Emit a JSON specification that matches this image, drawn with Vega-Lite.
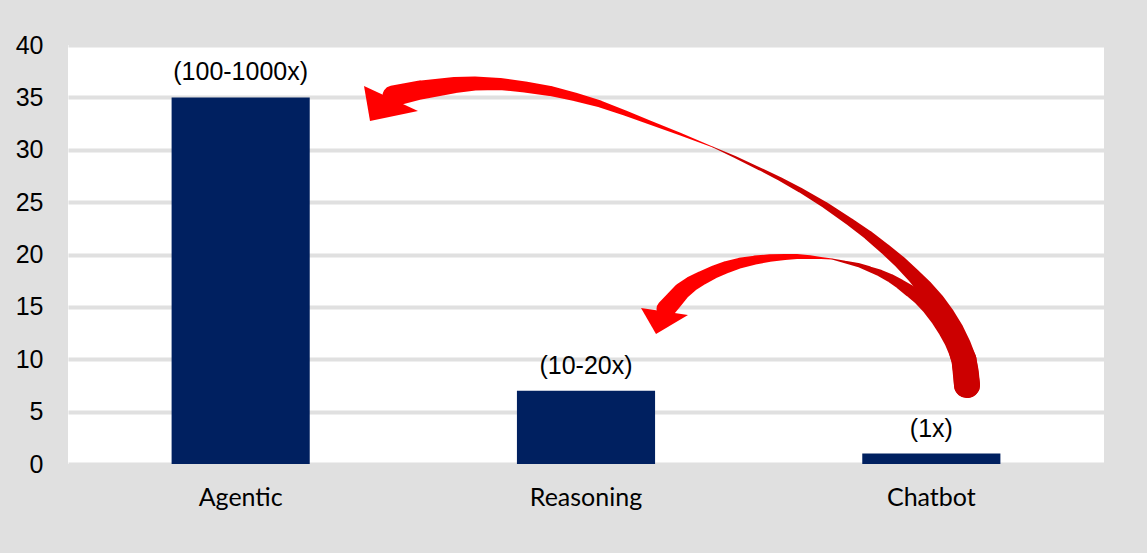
{
  "$schema": "https://vega.github.io/schema/vega-lite/v6.json",
  "width": 1036,
  "height": 419,
  "autosize": {"type": "none"},
  "padding": {"left": 68, "top": 45, "right": 43, "bottom": 89},
  "background": "#e0e0e0",
  "config": {"view": {"fill": "#ffffff", "stroke": null}},
  "datasets": {
    "bars": [
      {"model": "Agentic", "value": 35, "label": "(100-1000x)"},
      {"model": "Reasoning", "value": 7, "label": "(10-20x)"},
      {"model": "Chatbot", "value": 1, "label": "(1x)"}
    ],
    "arrows": [
      {"seg": "big-a", "tone": "bright", "i": 1, "ax": 0.9411, "ay": 35.13, "w": 21},
      {"seg": "big-a", "tone": "bright", "i": 2, "ax": 1.0193, "ay": 35.70, "w": 19},
      {"seg": "big-a", "tone": "bright", "i": 3, "ax": 1.1207, "ay": 36.18, "w": 16},
      {"seg": "big-a", "tone": "bright", "i": 4, "ax": 1.1786, "ay": 36.33, "w": 14},
      {"seg": "big-a", "tone": "bright", "i": 5, "ax": 1.2510, "ay": 36.28, "w": 12},
      {"seg": "big-a", "tone": "bright", "i": 6, "ax": 1.3234, "ay": 35.99, "w": 11},
      {"seg": "big-a", "tone": "bright", "i": 7, "ax": 1.3958, "ay": 35.61, "w": 10},
      {"seg": "big-a", "tone": "bright", "i": 8, "ax": 1.4682, "ay": 35.04, "w": 8.5},
      {"seg": "big-a", "tone": "bright", "i": 9, "ax": 1.5406, "ay": 34.37, "w": 7},
      {"seg": "big-a", "tone": "bright", "i": 10, "ax": 1.6130, "ay": 33.51, "w": 5.5},
      {"seg": "big-a", "tone": "bright", "i": 11, "ax": 1.6854, "ay": 32.60, "w": 4},
      {"seg": "big-a", "tone": "bright", "i": 12, "ax": 1.7722, "ay": 31.50, "w": 2.5},
      {"seg": "big-a", "tone": "bright", "i": 13, "ax": 1.8678, "ay": 30.26, "w": 0.8},
      {"seg": "big-b", "tone": "dark", "i": 14, "ax": 1.8678, "ay": 30.26, "w": 0.8},
      {"seg": "big-b", "tone": "dark", "i": 15, "ax": 1.9315, "ay": 29.31, "w": 2},
      {"seg": "big-b", "tone": "dark", "i": 16, "ax": 2.0039, "ay": 28.16, "w": 3},
      {"seg": "big-b", "tone": "dark", "i": 17, "ax": 2.0618, "ay": 27.21, "w": 4},
      {"seg": "big-b", "tone": "dark", "i": 18, "ax": 2.1197, "ay": 26.16, "w": 5},
      {"seg": "big-b", "tone": "dark", "i": 19, "ax": 2.1921, "ay": 24.73, "w": 6.5},
      {"seg": "big-b", "tone": "dark", "i": 20, "ax": 2.2645, "ay": 23.10, "w": 8},
      {"seg": "big-b", "tone": "dark", "i": 21, "ax": 2.3166, "ay": 21.86, "w": 9.5},
      {"seg": "big-b", "tone": "dark", "i": 22, "ax": 2.3659, "ay": 20.53, "w": 11},
      {"seg": "big-b", "tone": "dark", "i": 23, "ax": 2.4093, "ay": 19.28, "w": 12.5},
      {"seg": "big-b", "tone": "dark", "i": 24, "ax": 2.4498, "ay": 17.95, "w": 14},
      {"seg": "big-b", "tone": "dark", "i": 25, "ax": 2.4817, "ay": 16.80, "w": 16},
      {"seg": "big-b", "tone": "dark", "i": 26, "ax": 2.5136, "ay": 15.47, "w": 18},
      {"seg": "big-b", "tone": "dark", "i": 27, "ax": 2.5396, "ay": 14.13, "w": 20},
      {"seg": "big-b", "tone": "dark", "i": 28, "ax": 2.5628, "ay": 12.70, "w": 22},
      {"seg": "big-b", "tone": "dark", "i": 29, "ax": 2.5801, "ay": 11.36, "w": 23.5},
      {"seg": "big-b", "tone": "dark", "i": 30, "ax": 2.5946, "ay": 9.93, "w": 25},
      {"seg": "big-b", "tone": "dark", "i": 31, "ax": 2.6004, "ay": 8.78, "w": 25.5},
      {"seg": "big-b", "tone": "dark", "i": 32, "ax": 2.6033, "ay": 7.54, "w": 26},
      {"seg": "small-a", "tone": "bright", "i": 1, "ax": 1.7317, "ay": 14.80, "w": 19},
      {"seg": "small-a", "tone": "bright", "i": 2, "ax": 1.7549, "ay": 15.66, "w": 18},
      {"seg": "small-a", "tone": "bright", "i": 3, "ax": 1.7780, "ay": 16.52, "w": 17},
      {"seg": "small-a", "tone": "bright", "i": 4, "ax": 1.8041, "ay": 17.18, "w": 15.5},
      {"seg": "small-a", "tone": "bright", "i": 5, "ax": 1.8359, "ay": 17.76, "w": 14},
      {"seg": "small-a", "tone": "bright", "i": 6, "ax": 1.8707, "ay": 18.33, "w": 13},
      {"seg": "small-a", "tone": "bright", "i": 7, "ax": 1.9083, "ay": 18.81, "w": 12},
      {"seg": "small-a", "tone": "bright", "i": 8, "ax": 1.9460, "ay": 19.19, "w": 10.5},
      {"seg": "small-a", "tone": "bright", "i": 9, "ax": 1.9894, "ay": 19.47, "w": 9},
      {"seg": "small-a", "tone": "bright", "i": 10, "ax": 2.0329, "ay": 19.67, "w": 7.5},
      {"seg": "small-a", "tone": "bright", "i": 11, "ax": 2.0763, "ay": 19.76, "w": 6},
      {"seg": "small-a", "tone": "bright", "i": 12, "ax": 2.1110, "ay": 19.81, "w": 5},
      {"seg": "small-a", "tone": "bright", "i": 13, "ax": 2.1487, "ay": 19.76, "w": 3.5},
      {"seg": "small-a", "tone": "bright", "i": 14, "ax": 2.1805, "ay": 19.67, "w": 2},
      {"seg": "small-a", "tone": "bright", "i": 15, "ax": 2.2124, "ay": 19.57, "w": 0.8},
      {"seg": "small-b", "tone": "dark", "i": 16, "ax": 2.2124, "ay": 19.57, "w": 0.8},
      {"seg": "small-b", "tone": "dark", "i": 17, "ax": 2.2500, "ay": 19.28, "w": 2.5},
      {"seg": "small-b", "tone": "dark", "i": 18, "ax": 2.2877, "ay": 19.00, "w": 4},
      {"seg": "small-b", "tone": "dark", "i": 19, "ax": 2.3195, "ay": 18.62, "w": 5.5},
      {"seg": "small-b", "tone": "dark", "i": 20, "ax": 2.3514, "ay": 18.23, "w": 7},
      {"seg": "small-b", "tone": "dark", "i": 21, "ax": 2.3803, "ay": 17.76, "w": 8.5},
      {"seg": "small-b", "tone": "dark", "i": 22, "ax": 2.4093, "ay": 17.18, "w": 10},
      {"seg": "small-b", "tone": "dark", "i": 23, "ax": 2.4382, "ay": 16.52, "w": 12},
      {"seg": "small-b", "tone": "dark", "i": 24, "ax": 2.4672, "ay": 15.85, "w": 14},
      {"seg": "small-b", "tone": "dark", "i": 25, "ax": 2.4962, "ay": 14.99, "w": 16.5},
      {"seg": "small-b", "tone": "dark", "i": 26, "ax": 2.5251, "ay": 13.94, "w": 19},
      {"seg": "small-b", "tone": "dark", "i": 27, "ax": 2.5483, "ay": 12.89, "w": 20.5},
      {"seg": "small-b", "tone": "dark", "i": 28, "ax": 2.5686, "ay": 11.84, "w": 22},
      {"seg": "small-b", "tone": "dark", "i": 29, "ax": 2.5831, "ay": 10.88, "w": 23.5},
      {"seg": "small-b", "tone": "dark", "i": 30, "ax": 2.5946, "ay": 9.93, "w": 25},
      {"seg": "small-b", "tone": "dark", "i": 31, "ax": 2.6033, "ay": 7.54, "w": 26}
    ],
    "heads": [
      {"head": "big", "ax": 0.9151, "ay": 34.18},
      {"head": "small", "ax": 1.7192, "ay": 13.84}
    ]
  },
  "layer": [
    {
      "data": {"name": "bars"},
      "encoding": {
        "x": {
          "field": "model", "type": "nominal", "sort": null,
          "scale": {"paddingInner": 0.6, "paddingOuter": 0.3},
          "axis": {
            "title": null, "domain": false, "ticks": false, "tickSize": 0,
            "labelAngle": 0, "labelFont": "Lato", "labelFontSize": 25,
            "labelColor": "#000000", "labelBaseline": "alphabetic", "labelPadding": 41
          }
        },
        "y": {
          "field": "value", "type": "quantitative",
          "scale": {"domain": [0, 40], "nice": false},
          "axis": {
            "title": null, "domain": false, "ticks": false, "tickSize": 0,
            "values": [0, 5, 10, 15, 20, 25, 30, 35, 40],
            "labelFont": "Liberation Sans", "labelFontSize": 25, "labelColor": "#000000",
            "labelPadding": 25, "gridColor": "#e0e0e0", "gridWidth": 4, "gridOpacity": 1
          }
        }
      },
      "layer": [
        {"mark": {"type": "bar", "color": "#002060"}},
        {
          "mark": {"type": "text", "dy": -17, "baseline": "alphabetic", "align": "center",
                   "font": "Liberation Sans", "fontSize": 25, "color": "#000000"},
          "encoding": {"text": {"field": "label"}}
        }
      ]
    },
    {
      "data": {"name": "arrows"},
      "mark": {"type": "trail", "opacity": 1},
      "encoding": {
        "x": {"field": "ax", "type": "quantitative", "scale": {"domain": [0, 3], "nice": false, "zero": false}, "axis": null},
        "y": {"field": "ay", "type": "quantitative", "scale": {"domain": [0, 40], "nice": false}},
        "size": {"field": "w", "type": "quantitative", "scale": {"domain": [0, 26], "range": [0, 26]}, "legend": null},
        "color": {"field": "tone", "type": "nominal", "scale": {"domain": ["bright", "dark"], "range": ["#ff0000", "#cc0000"]}, "legend": null},
        "detail": {"field": "seg"},
        "order": {"field": "i", "type": "quantitative"}
      }
    },
    {
      "data": {"name": "heads"},
      "mark": {"type": "point", "filled": true, "size": 3600, "opacity": 1, "color": "#ff0000", "strokeWidth": 0},
      "encoding": {
        "x": {"field": "ax", "type": "quantitative", "scale": {"domain": [0, 3], "nice": false, "zero": false}, "axis": null},
        "y": {"field": "ay", "type": "quantitative", "scale": {"domain": [0, 40], "nice": false}},
        "shape": {
          "field": "head", "type": "nominal",
          "scale": {"domain": ["big", "small"], "range": ["M-0.667,-0.667L-0.467,0.5L1.133,0.167Z", "M-0.69,-0.367L-0.19,0.5L0.877,-0.133Z"]},
          "legend": null
        }
      }
    }
  ],
  "resolve": {"scale": {"x": "independent"}}
}
